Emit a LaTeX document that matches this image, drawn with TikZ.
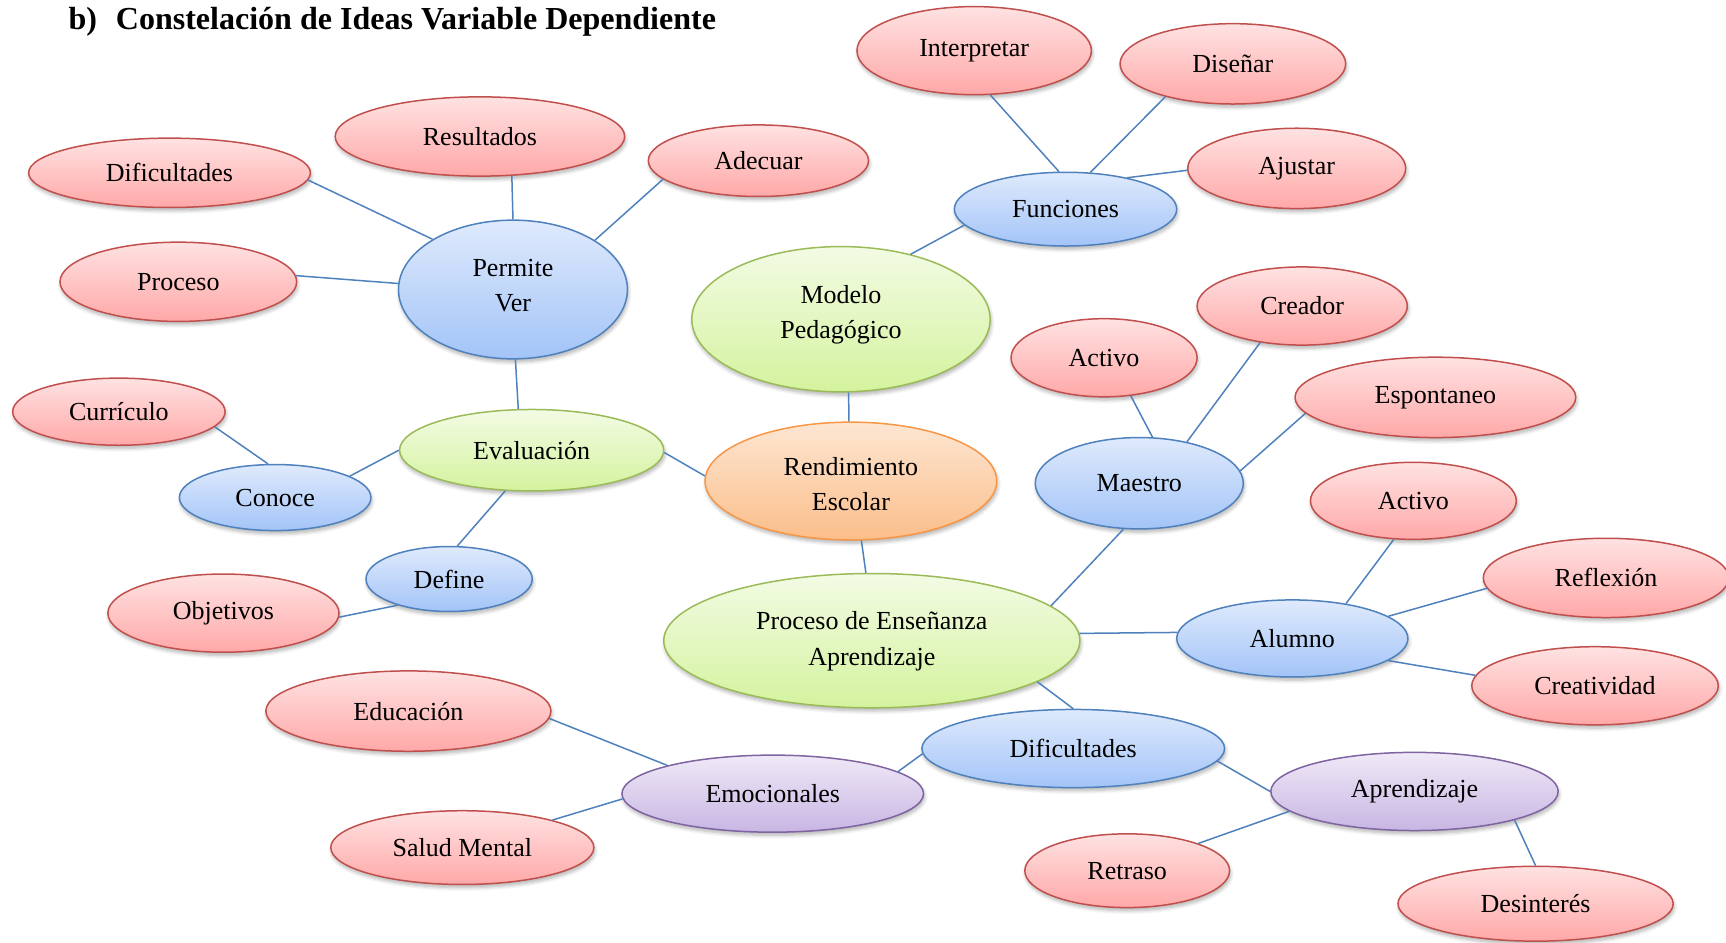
\documentclass[tikz,border=0pt]{standalone}
\usepackage{fontspec}
\setmainfont{Liberation Serif}
\usepackage{tikz}
\usetikzlibrary{shapes}
\usetikzlibrary{shadows.blur}

\definecolor{redtop}{RGB}{255,226,226}
\definecolor{redbot}{RGB}{255,168,168}
\definecolor{redline}{RGB}{192,80,77}
\definecolor{bluetop}{RGB}{223,234,252}
\definecolor{bluebot}{RGB}{163,196,248}
\definecolor{blueline}{RGB}{79,129,189}
\definecolor{greentop}{RGB}{243,251,228}
\definecolor{greenbot}{RGB}{212,243,158}
\definecolor{greenline}{RGB}{155,187,89}
\definecolor{orangetop}{RGB}{253,230,210}
\definecolor{orangebot}{RGB}{251,190,138}
\definecolor{orangeline}{RGB}{247,150,70}
\definecolor{purptop}{RGB}{239,233,247}
\definecolor{purpbot}{RGB}{200,182,227}
\definecolor{purpline}{RGB}{128,100,162}

\newcommand{\dos}[3][-3.25pt]{\raisebox{#1}[0pt][0pt]{\begin{tabular}{@{}c@{}}#2\\#3\end{tabular}}}

\tikzset{
  idea/.style={ellipse, draw, line width=0.75pt, inner sep=0pt, align=center,
    font=\fontsize{13}{17.6}\selectfont,
    blur shadow={shadow xshift=0.5pt, shadow yshift=-1.6pt, shadow blur steps=6, shadow opacity=30}},
  sz/.style 2 args={minimum width=#1*0.55pt, minimum height=#2*0.55pt},
  rojo/.style={idea, draw=redline, top color=redtop, bottom color=redbot},
  azul/.style={idea, draw=blueline, top color=bluetop, bottom color=bluebot},
  verde/.style={idea, draw=greenline, top color=greentop, bottom color=greenbot},
  naranja/.style={idea, draw=orangeline, top color=orangetop, bottom color=orangebot},
  morado/.style={idea, draw=purpline, top color=purptop, bottom color=purpbot},
  enlace/.style={draw=blueline, line width=0.75pt}
}

\begin{document}
\begin{tikzpicture}[x=0.55pt, y=-0.55pt]
    \useasboundingbox (0,0) rectangle (1568,856);

    %title
    \node[anchor=west, inner sep=0pt, font=\fontsize{16}{19}\selectfont\bfseries] (titulo) at (62,20)
        {b)\hspace{9.4pt}Constelación de Ideas Variable Dependiente};

    %center
    \node[naranja, sz={265}{107}] (ren) at (773,437) {\dos[-5.4pt]{Rendimiento}{Escolar}};
    \node[verde, sz={271}{132}] (mod) at (764,290) {\dos[-0.5pt]{Modelo}{Pedagógico}};
    \node[verde, sz={240}{74}] (eva) at (483,409) {Evaluación};
    \node[verde, sz={378}{122}] (pea) at (792,582) {\dos[-2.9pt]{Proceso de Enseñanza}{Aprendizaje}};

    %blue
    \node[azul, sz={202}{67}] (fun) at (968,190) {Funciones};
    \node[azul, sz={208}{126}] (per) at (466,263) {\dos[-1.8pt]{Permite}{Ver}};
    \node[azul, sz={174}{60}] (con) at (250,452) {Conoce};
    \node[azul, sz={151}{59}] (def) at (408,526) {Define};
    \node[azul, sz={189}{83}] (mae) at (1035,439) {Maestro};
    \node[azul, sz={210}{70}] (alu) at (1174,580) {Alumno};
    \node[azul, sz={275}{71}] (difB) at (975,680) {Dificultades};

    %purple
    \node[morado, sz={274}{70}] (emo) at (702,721) {Emocionales};
    \node[morado, sz={261}{71}] (apr) at (1285,719) {Aprendizaje};

    %red
    \node[rojo, sz={213}{80}] (int) at (885,46) {Interpretar};
    \node[rojo, sz={205}{73}] (dis) at (1120,58) {Diseñar};
    \node[rojo, sz={198}{73}] (aju) at (1178,153) {Ajustar};
    \node[rojo, sz={263}{72}] (res) at (436,124) {Resultados};
    \node[rojo, sz={200}{65}] (ade) at (689,146) {Adecuar};
    \node[rojo, sz={256}{63}] (difA) at (154,157) {Dificultades};
    \node[rojo, sz={215}{72}] (pro) at (162,256) {Proceso};
    \node[rojo, sz={169}{71}] (actA) at (1003,325) {Activo};
    \node[rojo, sz={191}{71}] (cre) at (1183,278) {Creador};
    \node[rojo, sz={255}{73}] (esp) at (1304,361) {Espontaneo};
    \node[rojo, sz={193}{61}] (cur) at (108,374) {Currículo};
    \node[rojo, sz={187}{70}] (actB) at (1284,455) {Activo};
    \node[rojo, sz={210}{71}] (obj) at (203,557) {Objetivos};
    \node[rojo, sz={223}{72}] (ref) at (1459,525) {Reflexión};
    \node[rojo, sz={224}{71}] (crea) at (1449,623) {Creatividad};
    \node[rojo, sz={259}{73}] (edu) at (371,646) {Educación};
    \node[rojo, sz={239}{67}] (sal) at (420,770) {Salud Mental};
    \node[rojo, sz={186}{67}] (ret) at (1024,791) {Retraso};
    \node[rojo, sz={250}{68}] (des) at (1395,821) {Desinterés};

    %lines
    \draw[enlace] (int.-70) -- (fun.100);
    \draw[enlace] (fun.56) -- (dis.206);
    \draw[enlace] (fun.27) -- (aju.181);
    \draw[enlace] (mod.43) -- (fun.189);
    \draw[enlace] (per.148) -- (difA.-3);
    \draw[enlace] (per.90) -- (res.-51);
    \draw[enlace] (per.31) -- (ade.191);
    \draw[enlace] (per.177) -- (pro.3);
    \draw[enlace] (per.-88) -- (eva.108);
    \draw[enlace] (mod.-84) -- (ren.92);
    \draw[enlace] (eva.180) -- (con.16);
    \draw[enlace] (con.102) -- (cur.-9);
    \draw[enlace] (eva.237) -- (def.76);
    \draw[enlace] (def.207) -- (obj.-2);
    \draw[enlace] (eva.-1) -- (ren.178);
    \draw[enlace] (ren.-80) -- (pea.95);
    \draw[enlace] (pea.11) -- (mae.251);
    \draw[enlace] (mae.74) -- (actA.-55);
    \draw[enlace] (mae.41) -- (cre.221);
    \draw[enlace] (mae.7) -- (esp.187);
    \draw[enlace] (pea.2) -- (alu.177);
    \draw[enlace] (alu.33) -- (actB.243);
    \draw[enlace] (alu.13) -- (ref.185);
    \draw[enlace] (alu.-13) -- (crea.175);
    \draw[enlace] (pea.-14) -- (difB.90);
    \draw[enlace] (difB.182) -- (emo.10);
    \draw[enlace] (emo.165) -- (edu.-3);
    \draw[enlace] (emo.182) -- (sal.17);
    \draw[enlace] (difB.-5) -- (apr.180);
    \draw[enlace] (apr.189) -- (ret.21);
    \draw[enlace] (apr.-16) -- (des.90);

\end{tikzpicture}
\end{document}
